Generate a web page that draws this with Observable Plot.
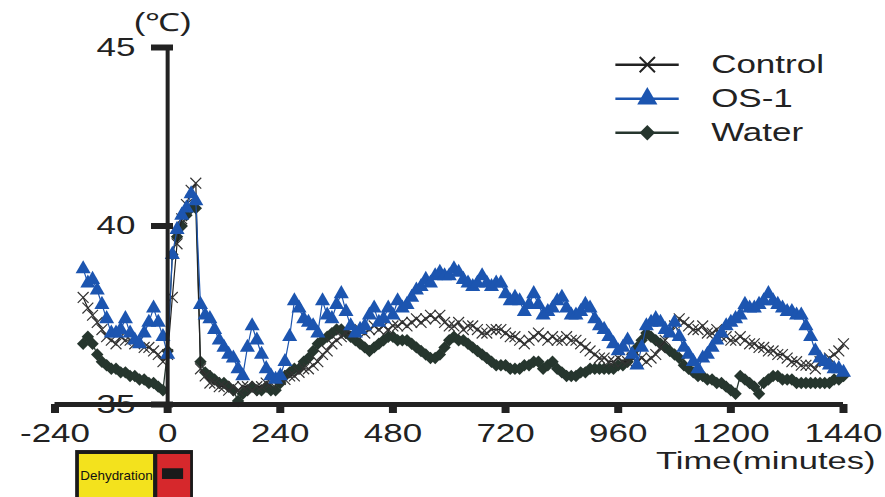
<!DOCTYPE html>
<html><head><meta charset="utf-8">
<script src="https://cdn.jsdelivr.net/npm/d3@7"></script>
<script src="https://cdn.jsdelivr.net/npm/@observablehq/plot@0.6"></script>
<style>body{margin:0;background:#fff;}</style>
</head><body><div id="chart"></div>
<script>
const minutes = [
 -180,-170,-160,-150,-140,-130,-120,-110,-100,-90,
 -80,-70,-60,-50,-40,-30,-20,-10,0,10,
 20,30,40,50,60,70,80,90,100,110,
 120,130,140,150,160,170,180,190,200,210,
 220,230,240,250,260,270,280,290,300,310,
 320,330,340,350,360,370,380,390,400,410,
 420,430,440,450,460,470,480,490,500,510,
 520,530,540,550,560,570,580,590,600,610,
 620,630,640,650,660,670,680,690,700,710,
 720,730,740,750,760,770,780,790,800,810,
 820,830,840,850,860,870,880,890,900,910,
 920,930,940,950,960,970,980,990,1000,1010,
 1020,1030,1040,1050,1060,1070,1080,1090,1100,1110,
 1120,1130,1140,1150,1160,1170,1180,1190,1200,1210,
 1220,1230,1240,1250,1260,1270,1280,1290,1300,1310,
 1320,1330,1340,1350,1360,1370,1380,1390,1400,1410,
 1420,1430,1440
];
const control = [
 38.0,37.7,37.5,37.3,37.1,36.9,36.8,36.7,36.9,36.8,
 36.8,36.7,36.8,36.6,36.6,36.5,36.4,36.2,36.4,38.0,
 39.5,40.2,40.6,41.0,41.2,36.0,35.8,35.6,35.6,35.5,
 35.5,35.4,35.5,35.4,35.5,35.5,35.4,35.5,35.5,35.6,
 35.6,35.7,35.7,35.7,35.8,35.8,35.9,36.0,36.0,36.1,
 36.2,36.4,36.5,36.7,36.8,36.9,37.0,37.0,37.1,37.1,
 37.0,37.1,37.2,37.1,37.2,37.1,37.2,37.2,37.3,37.2,
 37.3,37.4,37.3,37.4,37.5,37.4,37.5,37.3,37.2,37.2,
 37.3,37.1,37.2,37.2,37.1,37.0,37.0,37.1,37.1,37.1,
 37.0,36.9,36.9,36.8,36.7,36.8,36.9,37.0,36.9,36.8,
 36.9,36.8,36.8,36.9,36.8,36.8,36.7,36.6,36.5,36.4,
 36.3,36.3,36.2,36.2,36.3,36.2,36.2,36.3,36.2,36.3,
 36.2,36.3,36.4,36.6,36.8,37.0,37.2,37.4,37.3,37.2,
 37.1,37.1,37.2,37.0,37.0,37.1,36.9,36.9,36.8,36.8,
 36.9,36.8,36.7,36.7,36.6,36.6,36.5,36.5,36.4,36.4,
 36.3,36.2,36.2,36.1,36.1,36.1,36.0,36.2,36.2,36.3,
 36.4,36.5,36.7
];
const os1 = [
 38.8,38.4,38.5,38.2,37.8,37.4,37.0,37.0,37.1,37.4,
 37.0,36.8,36.7,37.0,37.3,37.7,37.3,36.9,36.4,39.2,
 39.9,40.3,40.5,40.9,40.7,37.8,37.5,37.4,37.1,36.8,
 36.6,36.4,36.3,36.0,35.8,36.6,37.2,36.8,36.4,36.0,
 35.8,35.7,35.8,36.2,36.9,37.9,37.7,37.4,37.3,37.2,
 37.0,37.9,37.5,37.4,37.8,38.1,37.6,37.2,37.0,37.1,
 37.2,37.5,37.7,37.3,37.4,37.7,37.5,37.9,37.7,37.8,
 38.0,38.2,38.3,38.5,38.4,38.6,38.7,38.6,38.6,38.8,
 38.7,38.5,38.4,38.3,38.4,38.6,38.4,38.3,38.4,38.4,
 38.1,37.9,38.0,37.9,37.6,37.8,38.1,37.8,37.5,37.6,
 37.7,37.9,38.0,37.7,37.5,37.5,37.6,37.8,37.7,37.4,
 37.2,37.1,36.9,36.7,36.5,36.6,36.8,36.4,36.1,36.6,
 37.2,37.3,37.4,37.3,37.1,37.0,37.3,36.9,36.6,36.4,
 36.2,36.0,36.3,36.4,36.6,36.8,37.0,37.2,37.3,37.4,
 37.5,37.8,37.7,37.7,37.8,37.9,38.1,37.9,37.8,37.7,
 37.6,37.6,37.5,37.5,37.2,36.9,36.5,36.3,36.2,36.1,
 36.0,36.0,35.9
];
const water = [
 36.7,36.9,36.7,36.4,36.2,36.1,36.0,36.0,35.9,35.9,
 35.8,35.8,35.7,35.7,35.6,35.6,35.5,35.4,36.5,39.2,
 39.7,40.0,40.3,40.5,40.5,36.2,35.9,35.8,35.7,35.6,
 35.6,35.5,35.4,35.1,35.3,35.4,35.5,35.4,35.4,35.5,
 35.4,35.4,35.6,35.8,35.9,36.0,36.0,36.2,36.3,36.5,
 36.7,36.8,36.9,37.0,37.1,37.1,37.0,36.9,36.8,36.7,
 36.6,36.5,36.6,36.7,36.8,36.9,36.9,36.8,36.8,36.8,
 36.7,36.6,36.5,36.4,36.3,36.3,36.4,36.6,36.8,36.9,
 36.8,36.8,36.7,36.6,36.5,36.4,36.3,36.2,36.1,36.1,
 36.1,36.0,36.0,36.0,36.1,36.1,36.2,36.2,36.0,36.1,
 36.2,36.0,35.9,35.8,35.8,35.8,35.9,35.9,36.0,36.0,
 36.0,36.0,36.0,36.0,36.1,36.1,36.2,36.4,36.6,36.8,
 37.0,36.9,36.8,36.7,36.6,36.5,36.4,36.3,36.1,36.0,
 35.9,35.8,35.8,35.7,35.7,35.6,35.6,35.5,35.4,35.3,
 35.8,35.7,35.6,35.5,35.3,35.6,35.7,35.8,35.8,35.7,
 35.7,35.7,35.6,35.6,35.6,35.6,35.6,35.6,35.6,35.6,
 35.7,35.7,35.8
];
const seriesNames = ["Control", "OS-1", "Water"];
const xTicks = [-240, 0, 240, 480, 720, 960, 1200, 1440];
const yTicks = [35, 40, 45];
const periodLabels = ["Dehydration", ""];
const periodStart = [-188, -21];
const periodEnd = [-30, 49];

const colors = {"Control": "#222222", "OS-1": "#1c55b0", "Water": "#26362e"};

const toRows = (vals, name) => minutes.map((m, i) => ({minute: m, temp: vals[i], series: name}));
const ctlRows = toRows(control, "Control");
const osRows = toRows(os1, "OS-1");
const watRows = toRows(water, "Water");
const periods = periodLabels.map((label, i) => ({label, start: periodStart[i], end: periodEnd[i]}));
const legendRows = seriesNames.map((name, i) => ({name, y: 44.52 - i * 0.955}));

const svg = Plot.plot({
  width: 885, height: 497,
  marginLeft: 54.5, marginRight: 42, marginTop: 47, marginBottom: 93,
  x: {domain: [-240, 1440]},
  y: {domain: [35, 45]},
  style: {fontFamily: "'Liberation Sans', Arial, sans-serif", background: "#fff", color: "#222"},
  marks: [
    // dehydration box below the axis
    Plot.rect([periods[0]], {x1: -196, x2: 55, y1: 32.2, y2: 33.71, fill: "#1a1a1a"}),
    Plot.rect([periods[0]], {x1: "start", x2: "end", y1: 32.2, y2: 33.6, fill: "#f3e21d"}),
    Plot.rect([periods[1]], {x1: "start", x2: "end", y1: 32.2, y2: 33.6, fill: "#d6282c"}),
    Plot.rect([periods[1]], {x1: -11, x2: 34, y1: 32.9, y2: 33.2, fill: "#1a1a1a"}),
    Plot.text([periods[0]], {x: d => (d.start + d.end) / 2, y: 33.0, text: "label", fontSize: 12, fill: "#111"}),
    // series
    Plot.line(watRows, {x: "minute", y: "temp", stroke: colors.Water, strokeWidth: 1.3}),
    Plot.dot(watRows, {x: "minute", y: "temp", symbol: "diamond2", r: 5.6, fill: colors.Water, stroke: "none"}),
    Plot.line(ctlRows, {x: "minute", y: "temp", stroke: colors.Control, strokeWidth: 1.2}),
    Plot.dot(ctlRows, {x: "minute", y: "temp", symbol: "times", r: 5, stroke: "#333", strokeWidth: 1.2}),
    Plot.line(osRows, {x: "minute", y: "temp", stroke: colors["OS-1"], strokeWidth: 1.2}),
    Plot.dot(osRows, {x: "minute", y: "temp", symbol: "triangle", r: 5.6, fill: colors["OS-1"], stroke: "none"}),
    // axes
    Plot.ruleY([35], {x1: -240, x2: 1440, stroke: "#222", strokeWidth: 5}),
    Plot.ruleX([0], {y1: 35, y2: 45, stroke: "#222", strokeWidth: 4}),
    Plot.axisX(xTicks, {anchor: "bottom", tickSize: 9, tickPadding: 11, strokeWidth: 8, stroke: "#222",
      fontSize: 25, tickFormat: d => String(d), label: null}),
    Plot.axisY(yTicks, {anchor: "left", dx: 118.5, tickSize: 22, tickPadding: 16, strokeWidth: 6, stroke: "#222",
      fontSize: 25, tickFormat: d => String(d), label: null}),
    Plot.text(["(℃)"], {x: 0, y: 45, dx: -5, dy: -25, fontSize: 25, fill: "#222"}),
    Plot.text(["Time(minutes)"], {frameAnchor: "bottom-right", dx: 32, dy: 64, textAnchor: "end", fontSize: 24, fill: "#222"}),
    // legend
    Plot.ruleY(legendRows, {y: "y", x1: 955, x2: 1090, stroke: d => colors[d.name], strokeWidth: 2.5}),
    Plot.dot(legendRows.filter(d => d.name === "Control"), {x: 1022, y: "y", symbol: "times", r: 7, stroke: colors.Control, strokeWidth: 2}),
    Plot.dot(legendRows.filter(d => d.name === "OS-1"), {x: 1022, y: "y", symbol: "triangle", r: 7.5, fill: colors["OS-1"]}),
    Plot.dot(legendRows.filter(d => d.name === "Water"), {x: 1022, y: "y", symbol: "diamond2", r: 7, fill: colors.Water}),
    Plot.text(legendRows, {x: 1158, y: "y", text: "name", textAnchor: "start", fontSize: 25, fill: "#222"})
  ]
});

// the reference's lettering is horizontally stretched
svg.querySelectorAll("text").forEach(t => {
  const tr = t.getAttribute("transform") || "";
  const s = t.textContent === "Dehydration" ? 1.12 : (t.textContent === "Time(minutes)" ? 1.44 : 1.4);
  t.setAttribute("transform", tr + ` scale(${s},1)`);
});
document.getElementById("chart").appendChild(svg);
</script>
</body></html>
